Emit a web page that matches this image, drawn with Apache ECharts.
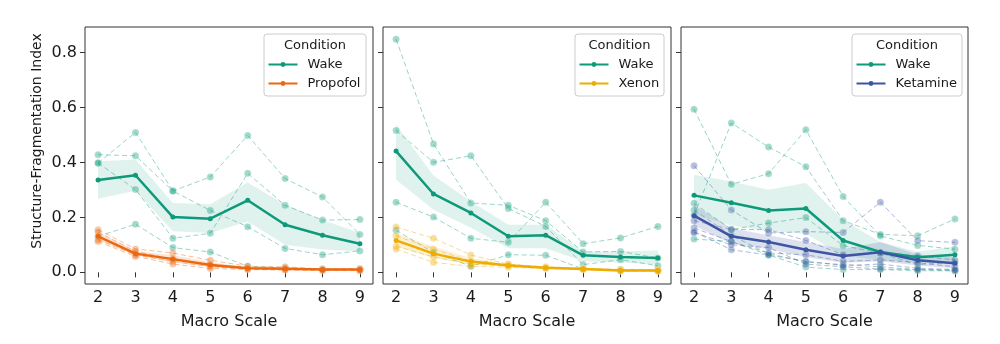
<!DOCTYPE html>
<html><head><meta charset="utf-8">
<script src="https://cdn.jsdelivr.net/npm/echarts@6/dist/echarts.min.js"></script>
<style>html,body{margin:0;padding:0;background:#fff}#c{width:1000px;height:344px}</style>
</head><body><div id="c"></div><script>
// ---------- data ----------
const macroScales = [2, 3, 4, 5, 6, 7, 8, 9];
const yTickValues = [0, 0.2, 0.4, 0.6, 0.8];
const conditionNames = ['Propofol', 'Xenon', 'Ketamine'];
const yTitle = 'Structure-Fragmentation Index';

// Panel 1: Wake vs Propofol
const p1WakeSubjects = [
  [0.428, 0.424, 0.296, 0.347, 0.498, 0.341, 0.274, 0.138],
  [0.398, 0.509, 0.296, 0.225, 0.166, 0.087, 0.064, 0.078],
  [0.398, 0.301, 0.124, 0.142, 0.360, 0.244, 0.190, 0.192],
  [0.131, 0.175, 0.090, 0.074, 0.022, 0.016, 0.012, 0.010]
];
const p1WakeMean = [0.336, 0.353, 0.201, 0.195, 0.262, 0.173, 0.135, 0.104];
const p1WakeLow  = [0.268, 0.297, 0.149, 0.143, 0.185, 0.100, 0.083, 0.077];
const p1WakeHigh = [0.404, 0.410, 0.252, 0.248, 0.327, 0.246, 0.190, 0.143];
const p1DrugSubjects = [
  [0.155, 0.085, 0.070, 0.044, 0.022, 0.020, 0.012, 0.014],
  [0.147, 0.076, 0.048, 0.030, 0.016, 0.014, 0.010, 0.010],
  [0.119, 0.063, 0.040, 0.020, 0.012, 0.010, 0.008, 0.008],
  [0.112, 0.058, 0.030, 0.014, 0.010, 0.008, 0.007, 0.006]
];
const p1DrugMean = [0.131, 0.068, 0.048, 0.027, 0.015, 0.013, 0.010, 0.010];
const p1DrugLow  = [0.117, 0.062, 0.036, 0.019, 0.011, 0.010, 0.008, 0.007];
const p1DrugHigh = [0.147, 0.078, 0.062, 0.037, 0.019, 0.017, 0.012, 0.012];

// Panel 2: Wake vs Xenon
const p2WakeSubjects = [
  [0.848, 0.467, 0.252, 0.244, 0.188, 0.074, 0.076, 0.052],
  [0.516, 0.400, 0.424, 0.232, 0.167, 0.028, 0.046, 0.024],
  [0.255, 0.201, 0.124, 0.109, 0.255, 0.104, 0.125, 0.167],
  [0.153, 0.072, 0.022, 0.064, 0.062, 0.012, 0.010, 0.008]
];
const p2WakeMean = [0.441, 0.285, 0.216, 0.131, 0.135, 0.062, 0.056, 0.052];
const p2WakeLow  = [0.337, 0.228, 0.162, 0.088, 0.088, 0.040, 0.036, 0.028];
const p2WakeHigh = [0.537, 0.352, 0.258, 0.173, 0.173, 0.076, 0.076, 0.080];
const p2DrugSubjects = [
  [0.165, 0.124, 0.063, 0.030, 0.020, 0.015, 0.010, 0.010],
  [0.133, 0.085, 0.040, 0.028, 0.018, 0.012, 0.006, 0.006],
  [0.095, 0.056, 0.030, 0.024, 0.016, 0.012, 0.006, 0.006],
  [0.085, 0.036, 0.022, 0.018, 0.014, 0.010, 0.005, 0.004]
];
const p2DrugMean = [0.116, 0.068, 0.039, 0.025, 0.017, 0.012, 0.007, 0.007];
const p2DrugLow  = [0.094, 0.052, 0.028, 0.020, 0.014, 0.010, 0.005, 0.005];
const p2DrugHigh = [0.142, 0.093, 0.052, 0.031, 0.021, 0.015, 0.009, 0.009];

// Panel 3: Wake vs Ketamine
const p3WakeSubjects = [
  [0.593, 0.320, 0.359, 0.519, 0.276, 0.132, 0.098, 0.084],
  [0.208, 0.543, 0.456, 0.384, 0.188, 0.138, 0.133, 0.194],
  [0.251, 0.156, 0.179, 0.199, 0.097, 0.070, 0.028, 0.036],
  [0.227, 0.134, 0.068, 0.038, 0.028, 0.020, 0.010, 0.007],
  [0.121, 0.112, 0.063, 0.019, 0.010, 0.010, 0.006, 0.005]
];
const p3WakeMean = [0.280, 0.253, 0.225, 0.232, 0.116, 0.074, 0.055, 0.064];
const p3WakeLow  = [0.210, 0.170, 0.150, 0.140, 0.060, 0.045, 0.035, 0.035];
const p3WakeHigh = [0.355, 0.330, 0.300, 0.325, 0.190, 0.110, 0.075, 0.095];
const p3DrugSubjects = [
  [0.388, 0.227, 0.143, 0.148, 0.145, 0.255, 0.115, 0.109],
  [0.188, 0.156, 0.155, 0.116, 0.064, 0.070, 0.060, 0.045],
  [0.161, 0.112, 0.070, 0.064, 0.040, 0.045, 0.035, 0.020],
  [0.148, 0.082, 0.063, 0.040, 0.025, 0.030, 0.015, 0.010],
  [0.145, 0.100, 0.090, 0.030, 0.020, 0.012, 0.010, 0.008]
];
const p3DrugMean = [0.206, 0.131, 0.110, 0.082, 0.059, 0.073, 0.044, 0.033];
const p3DrugLow  = [0.170, 0.105, 0.085, 0.055, 0.035, 0.040, 0.025, 0.015];
const p3DrugHigh = [0.245, 0.160, 0.135, 0.110, 0.085, 0.110, 0.065, 0.055];

// ---------- styling ----------
const WAKE = '#0e9a7a';
const DRUG_COLORS = ['#ec670f', '#efac00', '#3d56a3'];
const FONT = 'DejaVu Sans';
const TXT = '#1a1a1a';

const panels = [
  {wakeS: p1WakeSubjects, wakeM: p1WakeMean, wakeL: p1WakeLow, wakeH: p1WakeHigh,
   drugS: p1DrugSubjects, drugM: p1DrugMean, drugL: p1DrugLow, drugH: p1DrugHigh},
  {wakeS: p2WakeSubjects, wakeM: p2WakeMean, wakeL: p2WakeLow, wakeH: p2WakeHigh,
   drugS: p2DrugSubjects, drugM: p2DrugMean, drugL: p2DrugLow, drugH: p2DrugHigh},
  {wakeS: p3WakeSubjects, wakeM: p3WakeMean, wakeL: p3WakeLow, wakeH: p3WakeHigh,
   drugS: p3DrugSubjects, drugM: p3DrugMean, drugL: p3DrugLow, drugH: p3DrugHigh}
];
const gridBoxes = [
  {left: 85, top: 27, width: 288, height: 257},
  {left: 383, top: 27, width: 288, height: 257},
  {left: 681, top: 27, width: 287, height: 257}
];
const legendBoxes = [
  {x: 264, w: 102}, {x: 575, w: 89}, {x: 852, w: 110}
];

function pts(arr) { return macroScales.map((x, j) => [x, arr[j]]); }

function subjectSeries(ax, arr, color, name) {
  return {
    type: 'line', name: name, xAxisIndex: ax, yAxisIndex: ax, data: pts(arr),
    silent: true, z: 2, symbol: 'circle', symbolSize: 7,
    lineStyle: {color: color, width: 1, type: [5, 3], opacity: 0.42},
    itemStyle: {color: color, opacity: 0.38, borderColor: '#ffffff', borderWidth: 0.6},
    emphasis: {disabled: true}, animation: false
  };
}
function meanSeries(ax, arr, color, name) {
  return {
    type: 'line', name: name, xAxisIndex: ax, yAxisIndex: ax, data: pts(arr),
    z: 5, symbol: 'circle', symbolSize: 5, showSymbol: true,
    lineStyle: {color: color, width: 2.5},
    itemStyle: {color: color, borderColor: color, borderWidth: 0},
    emphasis: {disabled: true}, animation: false
  };
}
function bandSeries(ax, low, high, color, op) {
  return {
    type: 'custom', xAxisIndex: ax, yAxisIndex: ax, silent: true, z: 3,
    data: macroScales.map((x, j) => [x, low[j], high[j]]),
    encode: {x: 0, y: [1, 2]}, animation: false,
    renderItem: function (params, api) {
      if (params.dataIndex !== 0) return null;
      const poly = [];
      for (let j = 0; j < macroScales.length; j++) poly.push(api.coord([macroScales[j], high[j]]));
      for (let j = macroScales.length - 1; j >= 0; j--) poly.push(api.coord([macroScales[j], low[j]]));
      return {type: 'polygon', shape: {points: poly}, style: {fill: color, opacity: op}};
    }
  };
}

const series = [];
panels.forEach((p, i) => {
  const dc = DRUG_COLORS[i];
  p.wakeS.forEach((s, k) => series.push(subjectSeries(i, s, WAKE, 'wake-subj-' + i + '-' + k)));
  p.drugS.forEach((s, k) => series.push(subjectSeries(i, s, dc, 'drug-subj-' + i + '-' + k)));
  series.push(bandSeries(i, p.wakeL, p.wakeH, WAKE, 0.13));
  series.push(bandSeries(i, p.drugL, p.drugH, dc, 0.18));
  series.push(meanSeries(i, p.wakeM, WAKE, 'Wake'));
  series.push(meanSeries(i, p.drugM, dc, conditionNames[i]));
});

const grids = gridBoxes.map(g => Object.assign({show: true, borderColor: '#333333', borderWidth: 1, backgroundColor: 'transparent', containLabel: false}, g));

const xAxes = gridBoxes.map((g, i) => ({
  type: 'value', gridIndex: i, min: 1.65, max: 9.35,
  axisLine: {show: false},
  axisTick: {show: true, customValues: macroScales, length: 5, lineStyle: {color: '#333333', width: 1}},
  axisLabel: {show: true, customValues: macroScales, fontSize: 16, fontFamily: FONT, color: TXT, margin: 6},
  splitLine: {show: false},
  name: 'Macro Scale', nameLocation: 'middle', nameGap: 30,
  nameTextStyle: {fontSize: 16, fontFamily: FONT, color: TXT}
}));
const yAxes = gridBoxes.map((g, i) => ({
  type: 'value', gridIndex: i, min: -0.0425, max: 0.8925,
  axisLine: {show: false},
  axisTick: {show: true, customValues: yTickValues, length: 5, lineStyle: {color: '#333333', width: 1}},
  axisLabel: {show: i === 0, customValues: yTickValues, fontSize: 16, fontFamily: FONT, color: TXT, margin: 8,
              formatter: v => Number(v).toFixed(1)},
  splitLine: {show: false}
}));

const legends = [];
const graphics = [];
graphics.push({type: 'text', z: 10, x: 37, y: 141, rotation: Math.PI / 2,
  style: {text: yTitle, fontSize: 14, fontFamily: FONT, fill: TXT, textAlign: 'center', textVerticalAlign: 'middle'}});
legendBoxes.forEach((b, i) => {
  graphics.push({type: 'rect', z: 50, shape: {x: b.x, y: 34, width: b.w, height: 62, r: 3},
    style: {fill: 'rgba(255,255,255,0.8)', stroke: '#cccccc', lineWidth: 1}});
  graphics.push({type: 'text', z: 51, x: b.x + b.w / 2, y: 45.5,
    style: {text: 'Condition', fontSize: 13, fontFamily: FONT, fill: TXT, textAlign: 'center', textVerticalAlign: 'middle'}});
  [['Wake', 58], [conditionNames[i], 77]].forEach(([nm, top]) => {
    legends.push({
      data: [nm], left: b.x + 3.5, top: top, orient: 'vertical', padding: 0,
      itemWidth: 29, itemHeight: 6, z: 60, selectedMode: false,
      textStyle: {fontSize: 13, fontFamily: FONT, color: TXT, padding: [0, 0, 0, 5]}
    });
  });
});

const chart = echarts.init(document.getElementById('c'), null, {renderer: 'canvas'});
chart.setOption({
  backgroundColor: '#ffffff',
  animation: false,
  textStyle: {fontFamily: FONT},
  grid: grids, xAxis: xAxes, yAxis: yAxes,
  legend: legends, graphic: graphics, series: series
});
</script></body></html>
